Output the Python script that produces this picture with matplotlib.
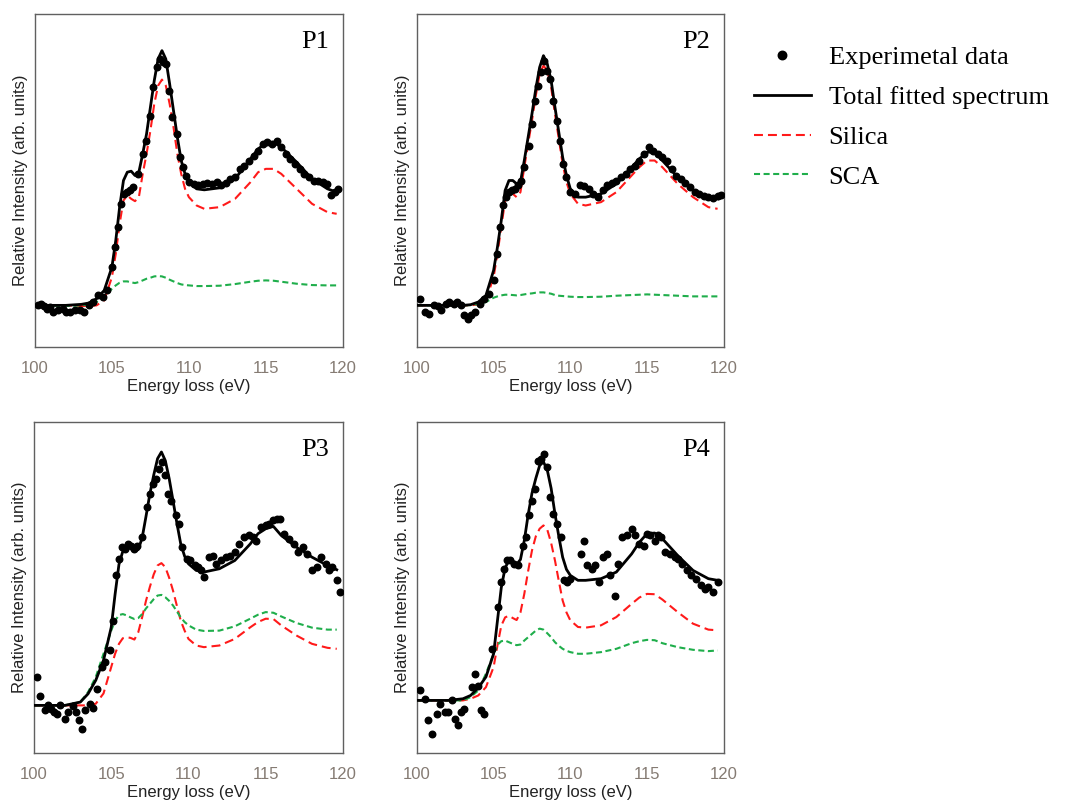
import matplotlib
matplotlib.use("Agg")
import matplotlib.pyplot as plt
import numpy as np

plt.rcParams['font.family'] = ['Liberation Sans', 'DejaVu Sans']

# shared energy grid for the fitted curves (eV)
fit_x = [100, 102, 103, 103.5, 104, 104.5, 105, 105.25, 105.5, 105.75,
         106, 106.25, 106.5, 106.75, 107, 107.25, 107.5, 107.75, 108, 108.25,
         108.5, 108.75, 109, 109.25, 109.5, 109.75, 110, 110.5, 111, 112,
         113, 114, 114.5, 115, 115.5, 116, 117, 118, 119, 119.6]

# ---- P1 ----
p1_total = [12.5, 12.5, 12.8, 13.2, 14.5, 17, 24, 32, 42, 50,
            52.5, 52.8, 51.5, 52.5, 58, 64, 72, 80, 86.5, 89,
            86.5, 79, 71, 63, 56, 52, 49.5, 47.5, 47.2, 47.8,
            50.5, 56.5, 59.5, 61.2, 61.5, 60, 55.5, 50.5, 47.5, 46.5]
p1_silica = [12.5, 12.5, 12.3, 12.3, 12.5, 14, 21, 28, 37, 44,
             45.5, 44.5, 43.8, 45, 52, 58, 65, 73, 78.5, 80.3,
             78.5, 73, 66, 58, 52, 47.5, 45, 42.5, 41.5, 42,
             44.5, 49.5, 52.5, 53.5, 53.5, 52, 47.5, 43, 40.5, 40]
p1_sca = [12.5, 12.3, 12.5, 12.8, 13.5, 15, 17.5, 18.5, 19.3, 19.7,
          19.7, 19.4, 19.2, 19.5, 20, 20.5, 20.8, 21.2, 21.3, 21.2,
          20.8, 20.2, 19.7, 19.2, 18.8, 18.6, 18.5, 18.3, 18.3, 18.4,
          18.9, 19.6, 19.9, 20, 19.9, 19.6, 19, 18.6, 18.5, 18.5]
p1_ex = [100.2, 100.4, 100.6, 100.8, 101.0, 101.2, 101.5, 101.8, 102.0, 102.3,
         102.6, 102.9, 103.2, 103.5, 103.8, 104.1, 104.4, 104.7, 105.0, 105.2,
         105.4, 105.6, 105.8, 106.0, 106.2, 106.4, 106.7, 107.0, 107.2, 107.5,
         107.7, 107.9, 108.1, 108.3, 108.5, 108.7, 108.9, 109.2, 109.4, 109.6,
         109.8, 110.0, 110.3, 110.6, 110.9, 111.2, 111.5, 111.8, 112.1, 112.4,
         112.7, 113.0, 113.3, 113.6, 113.9, 114.2, 114.5, 114.8, 115.1, 115.4,
         115.7, 116.0, 116.3, 116.6, 116.9, 117.2, 117.5, 117.8, 118.1, 118.4,
         118.7, 119.0, 119.2, 119.5, 119.7]
p1_ey = [12.5, 13.0, 12.2, 11.5, 12.0, 10.5, 11.2, 11.5, 10.5, 10.5,
         11.2, 11.0, 10.5, 12.5, 13.5, 15.5, 15.0, 17.0, 24.0, 30.0,
         36.0, 43.0, 46.0, 46.5, 47.0, 48.0, 52.0, 58.0, 62.0, 69.5,
         78.0, 84.0, 86.5, 85.5, 85.0, 77.0, 69.0, 64.0, 57.0, 54.0,
         51.5, 49.5, 49.0, 48.5, 49.0, 49.2, 49.0, 49.5, 48.5, 49.2,
         50.5, 51.0, 53.5, 54.5, 56.0, 57.5, 59.0, 61.0, 61.5, 61.0,
         62.0, 60.0, 58.0, 56.5, 55.0, 53.5, 52.0, 51.0, 50.0, 50.0,
         49.5, 49.0, 45.5, 46.5, 47.5]

# ---- P2 ----
p2_total = [12.5, 12.5, 12.5, 12.7, 13.5, 15.5, 23, 30, 38, 47,
            50, 50, 49, 49.5, 56, 63, 70, 77.5, 84, 87.5,
            85, 80, 72, 64.5, 57, 51.5, 47.5, 45, 45, 46,
            49, 54, 56.5, 58.5, 58.5, 56, 51, 47, 45, 44.5]
p2_silica = [12.5, 12.5, 12.5, 12.5, 12.8, 14, 21, 28, 36, 44,
             46.5, 46, 45, 46.5, 54, 61, 68, 75.5, 82, 84.5,
             83, 78, 70, 62.5, 55, 49.5, 46, 43, 42.5, 43.5,
             46.5, 51.5, 54, 56, 56, 54, 49, 45, 42, 41.5]
p2_sca = [12.5, 12.5, 12.5, 12.6, 12.9, 13.5, 14.8, 15.2, 15.5, 15.7,
          15.7, 15.6, 15.5, 15.6, 15.8, 16, 16.1, 16.3, 16.4, 16.4,
          16.2, 16, 15.6, 15.4, 15.3, 15.2, 15.1, 15, 15, 15.1,
          15.4, 15.6, 15.7, 15.8, 15.7, 15.6, 15.4, 15.2, 15.2, 15.2]
p2_ex = [100.2, 100.5, 100.8, 101.1, 101.4, 101.6, 101.9, 102.1, 102.4, 102.6,
         102.9, 103.1, 103.3, 103.5, 103.8, 104.1, 104.4, 104.7, 105.0, 105.2,
         105.4, 105.6, 105.8, 106.0, 106.2, 106.4, 106.6, 106.8, 107.0, 107.3,
         107.5, 107.7, 107.9, 108.1, 108.3, 108.5, 108.7, 108.9, 109.1, 109.3,
         109.5, 109.7, 110.0, 110.3, 110.6, 110.9, 111.2, 111.5, 111.8, 112.1,
         112.4, 112.7, 113.0, 113.3, 113.6, 113.9, 114.2, 114.5, 114.8, 115.1,
         115.4, 115.7, 116.0, 116.3, 116.6, 116.9, 117.2, 117.5, 117.8, 118.1,
         118.4, 118.7, 119.0, 119.3, 119.6, 119.8]
p2_ey = [14.5, 10.5, 10.0, 12.5, 12.2, 11.0, 12.8, 13.5, 13.0, 13.5,
         12.5, 9.5, 8.5, 9.5, 10.5, 13.0, 14.5, 16.0, 20.0, 28.0,
         36.0, 42.5, 45.0, 46.5, 47.0, 47.5, 48.5, 50.0, 54.0, 60.5,
         67.0, 74.0, 78.5, 82.5, 86.0, 83.0, 80.5, 74.0, 68.0, 62.0,
         55.0, 51.0, 46.5, 46.0, 48.5, 48.2, 47.5, 46.0, 45.0, 47.0,
         48.5, 49.2, 50.0, 51.0, 52.0, 53.5, 54.5, 56.0, 58.0, 60.0,
         59.0, 58.0, 57.0, 56.0, 53.5, 51.5, 50.5, 49.2, 48.0, 46.5,
         46.0, 45.2, 45.0, 44.8, 45.2, 45.5]

# ---- P3 ----
p3_total = [14.4, 14.4, 15.4, 17.9, 22, 28, 38, 48, 57, 61,
            62.7, 62.3, 61, 61.5, 65, 71.5, 78.3, 84, 89, 91,
            88.4, 83, 76.3, 69.5, 63.2, 59.5, 57.2, 55.2, 54.7, 55.7,
            58.2, 63.2, 66.3, 67.8, 68.5, 65.8, 62.2, 59.2, 56.7, 55.4]
p3_silica = [14.4, 14.4, 14.4, 14.4, 14.9, 18, 26, 30, 33, 34.7,
             35, 34.8, 34.3, 36.5, 41, 46, 50.2, 54, 56.7, 57.4,
             56.2, 53, 49.1, 44.5, 40, 37, 34.5, 32.5, 32, 32.5,
             34.5, 38, 39.6, 40.6, 40.5, 38.6, 35.5, 33, 31.8, 31.5]
p3_sca = [14.4, 14.4, 15.4, 18.4, 23, 30, 37, 40, 41.7, 42,
          41.6, 41, 40.5, 40.8, 42, 43.7, 45.1, 46.5, 47.6, 47.8,
          47.1, 46, 44.6, 42.8, 41, 39.6, 38.6, 37.3, 36.9, 37,
          38.3, 40.6, 41.8, 42.6, 42.4, 41.3, 39.3, 37.9, 37.3, 37.3]
p3_ex = [100.2, 100.4, 100.7, 100.9, 101.1, 101.3, 101.5, 101.7, 102.0, 102.2,
         102.5, 102.7, 102.9, 103.1, 103.3, 103.6, 103.8, 104.1, 104.4, 104.6,
         104.9, 105.1, 105.3, 105.5, 105.7, 105.9, 106.1, 106.3, 106.5, 106.7,
         107.0, 107.3, 107.5, 107.7, 107.9, 108.1, 108.3, 108.5, 108.7, 108.9,
         109.2, 109.4, 109.6, 109.9, 110.1, 110.4, 110.6, 110.8, 111.0, 111.3,
         111.6, 111.8, 112.1, 112.4, 112.7, 113.0, 113.3, 113.6, 113.9, 114.2,
         114.4, 114.7, 115.0, 115.2, 115.5, 115.7, 115.9, 116.2, 116.5, 116.8,
         117.1, 117.4, 117.7, 118.0, 118.3, 118.6, 118.9, 119.1, 119.3, 119.6,
         119.8]
p3_ey = [23.0, 17.1, 12.9, 14.4, 13.4, 12.4, 11.9, 14.6, 10.4, 12.4,
         14.1, 12.4, 9.9, 7.4, 13.1, 14.9, 13.7, 19.4, 26.0, 27.5,
         31.0, 40.0, 53.7, 58.7, 62.2, 61.7, 63.2, 62.7, 61.7, 62.7,
         65.3, 74.3, 78.3, 81.4, 82.9, 85.9, 87.9, 83.9, 78.3, 76.3,
         71.8, 69.3, 62.2, 58.7, 58.2, 56.7, 56.2, 55.2, 53.2, 59.2,
         59.7, 57.2, 58.2, 59.2, 59.7, 60.7, 63.2, 65.3, 65.8, 65.3,
         64.2, 68.3, 68.8, 69.3, 70.3, 70.8, 70.8, 66.3, 64.8, 63.2,
         60.7, 62.2, 60.2, 55.2, 56.2, 59.2, 57.2, 55.2, 56.2, 52.2,
         48.6]

# ---- P4 ----
p4_total = [15.9, 15.9, 16.4, 17.4, 19.7, 23, 30, 40, 50, 56,
            58.2, 58.1, 57, 58.5, 64.2, 72, 78.5, 83, 86.9, 88,
            85.5, 80, 72.3, 65.5, 59.2, 55.5, 53.7, 52.2, 52.2, 52.7,
            54.7, 60.2, 63.7, 66.3, 66.5, 64.8, 59.7, 55.2, 52.7, 52.2]
p4_silica = [15.9, 15.9, 15.9, 16.4, 17.4, 19.9, 26, 32.5, 38.5, 41,
             41.5, 40.8, 40.2, 42.5, 48.1, 55, 61.2, 65.5, 67.8, 68.8,
             67.5, 63.5, 58.2, 52, 46.1, 42.5, 40.1, 38.1, 37.9, 38.6,
             41.1, 45.1, 47, 48.1, 48, 46.4, 42.6, 39.1, 37.3, 37.1]
p4_sca = [15.9, 15.9, 15.9, 16.9, 18.9, 24, 30, 32.7, 33.8, 34,
          33.5, 33, 32.6, 32.8, 34, 35, 36, 37, 37.6, 37.3,
          36.2, 35, 33.5, 32.4, 31.5, 30.9, 30.5, 30, 30, 30.5,
          31.5, 33.2, 33.8, 34.2, 34.1, 33.2, 32, 31.2, 30.8, 31]
p4_ex = [100.2, 100.5, 100.7, 101.0, 101.3, 101.5, 101.8, 102.0, 102.3, 102.5,
         102.7, 102.9, 103.1, 103.6, 103.8, 104.0, 104.2, 104.4, 104.9, 105.3,
         105.5, 105.7, 105.9, 106.1, 106.3, 106.6, 106.9, 107.1, 107.3, 107.5,
         107.7, 107.9, 108.1, 108.3, 108.5, 108.7, 108.9, 109.1, 109.4, 109.6,
         109.8, 110.0, 110.7, 110.9, 111.1, 111.4, 111.6, 111.9, 112.1, 112.4,
         112.6, 112.9, 113.1, 113.4, 113.7, 114.0, 114.2, 114.5, 114.8, 115.0,
         115.2, 115.5, 115.7, 115.9, 116.2, 116.5, 116.8, 117.0, 117.3, 117.6,
         117.9, 118.2, 118.5, 118.8, 119.0, 119.3, 119.6]
p4_ey = [19.1, 16.4, 10.1, 5.6, 11.9, 14.9, 12.4, 12.4, 15.9, 10.4,
         8.4, 12.4, 13.4, 19.9, 24.0, 20.4, 12.9, 11.9, 31.5, 44.1,
         51.7, 55.7, 58.2, 58.2, 57.2, 56.7, 62.7, 65.3, 71.8, 76.3,
         79.8, 88.4, 88.9, 90.4, 86.4, 77.3, 72.3, 69.3, 65.3, 52.2,
         51.7, 52.7, 60.2, 64.2, 56.7, 55.7, 56.7, 51.7, 59.2, 60.2,
         53.7, 47.6, 57.2, 65.3, 65.8, 67.8, 65.8, 63.2, 62.7, 66.3,
         65.8, 64.2, 65.8, 65.3, 60.7, 60.2, 59.2, 58.7, 57.2, 55.2,
         53.7, 52.7, 50.7, 49.7, 50.2, 48.6, 51.7]

panels = [
    ("P1", p1_ex, p1_ey, p1_total, p1_silica, p1_sca, [0.0327, 0.5668, 0.288, 0.4157]),
    ("P2", p2_ex, p2_ey, p2_total, p2_silica, p2_sca, [0.390, 0.5668, 0.287, 0.4157]),
    ("P3", p3_ex, p3_ey, p3_total, p3_silica, p3_sca, [0.0318, 0.0599, 0.289, 0.413]),
    ("P4", p4_ex, p4_ey, p4_total, p4_silica, p4_sca, [0.390, 0.0599, 0.287, 0.413]),
]

serif = ['Liberation Serif', 'DejaVu Serif']

fig = plt.figure(figsize=(10.69, 8.01), dpi=100)

handles = None
for name, ex, ey, tot, sil, sca, pos in panels:
    ax = fig.add_axes(pos)
    h_sil, = ax.plot(fit_x, sil, color='#ff1a1a', lw=1.5, dashes=(4.3, 2.4), zorder=2)
    h_sca, = ax.plot(fit_x, sca, color='#1fae4b', lw=1.5, dashes=(2.9, 1.7), zorder=2)
    h_tot, = ax.plot(fit_x, tot, color='black', lw=2.0, zorder=3)
    h_dat, = ax.plot(ex, ey, 'o', color='black', ms=4.7, ls='none', zorder=4)
    if handles is None:
        handles = [h_dat, h_tot, h_sil, h_sca]

    ax.set_xlim(100, 120)
    ax.set_ylim(0, 100)
    ax.set_xticks([100, 105, 110, 115, 120])
    ax.set_yticks([])
    ax.tick_params(axis='x', length=0, pad=10, labelsize=12, labelcolor='#857b73')
    for sp in ax.spines.values():
        sp.set_color('#606060')
        sp.set_linewidth(1.0)
    ax.set_xlabel('Energy loss (eV)', fontsize=12, labelpad=2, color='#222222')
    ax.set_ylabel('Relative Intensity (arb. units)', fontsize=12, labelpad=5, color='#222222')
    ax.text(0.955, 0.915, name, transform=ax.transAxes, ha='right', va='center',
            fontsize=19, family=serif)

leg = fig.legend(handles, ['Experimetal data', 'Total fitted spectrum', 'Silica', 'SCA'],
                 loc='upper left', bbox_to_anchor=(0.705, 0.943), frameon=False,
                 prop={'family': serif, 'size': 19},
                 handlelength=2.16, handletextpad=0.68, labelspacing=0.62,
                 borderpad=0, borderaxespad=0, markerscale=1.3)

fig.savefig('out.png', dpi=100)
